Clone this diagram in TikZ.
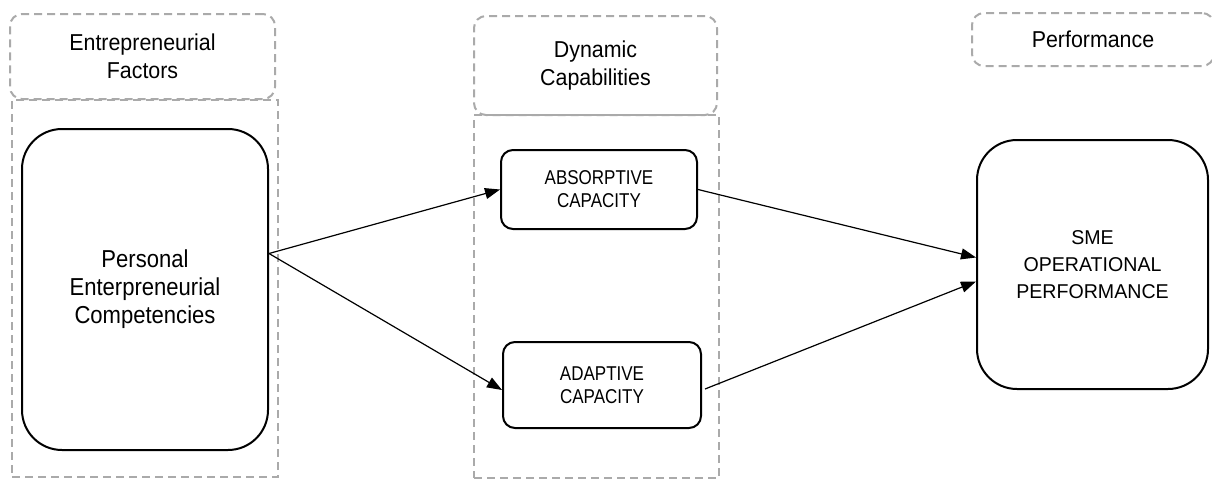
\documentclass[tikz,border=0pt]{standalone}
\usepackage{fontspec}
\setmainfont{Liberation Sans}
\font\hdfnt="Liberation Sans:extend=0.93" at 23pt
\font\pecfnt="Liberation Sans:extend=0.9" at 24.5pt
\font\capfnt="Liberation Sans:extend=0.85" at 20pt
\font\smefnt="Liberation Sans:extend=0.98" at 20pt
\usetikzlibrary{arrows.meta,calc}
\definecolor{dashgray}{RGB}{170,170,170}
\begin{document}
\begin{tikzpicture}[x=1pt,y=1pt,
  hdbox/.style={draw=dashgray, line width=2pt, dash pattern=on 8pt off 5pt, rounded corners=12pt,
    inner sep=0pt, align=center, font={\fontsize{23}{28}\selectfont\hdfnt}},
  outerbox/.style={draw=dashgray, line width=2pt, dash pattern=on 8pt off 5pt, inner sep=0pt},
  pecbox/.style={draw=black, line width=2pt, rounded corners=40pt, inner sep=0pt, align=center,
    font={\fontsize{24.5}{28}\selectfont\pecfnt}},
  smebox/.style={draw=black, line width=2pt, rounded corners=40pt, inner sep=0pt, align=center,
    font={\fontsize{20}{27}\selectfont\smefnt}},
  capbox/.style={draw=black, line width=2pt, rounded corners=12pt, inner sep=0pt, align=center,
    font={\fontsize{20}{23}\selectfont\capfnt}},
  conn/.style={line width=1.2pt, -{Triangle[length=15pt,width=11pt]}}
]
\useasboundingbox (0,0) rectangle (1212,-479);
\clip (0,0) rectangle (1212,-479);
% left column
\node[outerbox, minimum width=266pt, minimum height=377pt] (lout) at (145,-288.5) {};
\node[hdbox, minimum width=265pt, minimum height=85pt] (lhd) at (142.5,-56.5) {Entrepreneurial\\Factors};
\node[pecbox, minimum width=246pt, minimum height=321pt] (pec) at (145,-289.5) {Personal\\Enterpreneurial\\Competencies};
% middle column
\node[outerbox, minimum width=245pt, minimum height=363pt] (mout) at (596.5,-296.5) {};
\node[hdbox, minimum width=243pt, minimum height=99pt] (mhd) at (595.5,-65.5) {Dynamic\\Capabilities};
\node[capbox, minimum width=196pt, minimum height=79pt] (abs) at (599,-189.5) {ABSORPTIVE\\CAPACITY};
\node[capbox, minimum width=198pt, minimum height=86pt] (adp) at (602,-385) {ADAPTIVE\\CAPACITY};
% right column
\node[hdbox, minimum width=242pt, minimum height=53pt] (rhd) at (1093,-39.5) {Performance};
\node[smebox, minimum width=231pt, minimum height=249pt] (sme) at (1092.5,-264.5) {SME\\OPERATIONAL\\PERFORMANCE};
% connectors
\coordinate (s) at ($(pec.east)+(0,36)$);
\draw[conn] (s) -- (abs.west);
\draw[conn] (s) -- ($(adp.west)+(0,-5)$);
\draw[conn] (abs.east) -- ($(sme.west)+(0,7)$);
\draw[conn] ($(adp.east)+(3,-4)$) -- ($(sme.west)+(0,-17)$);
\end{tikzpicture}
\end{document}
